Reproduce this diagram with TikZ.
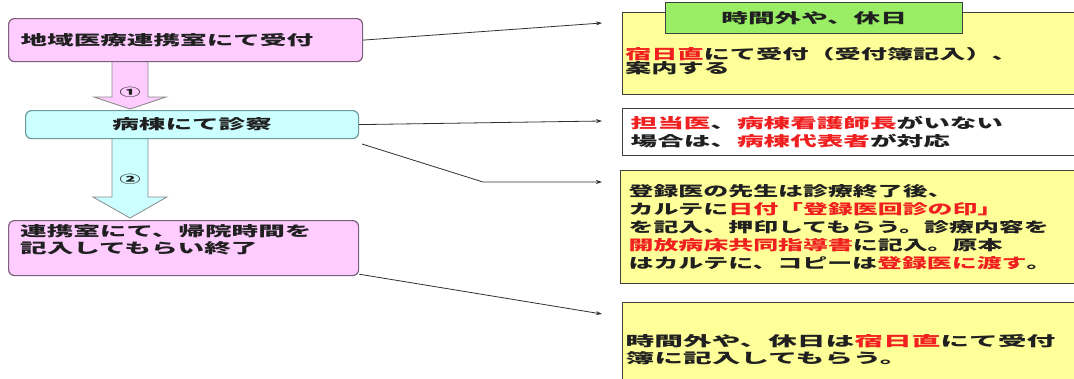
\documentclass[tikz,border=0pt]{standalone}
\usepackage{fontspec}
\newfontfamily\jp[FakeStretch=1.9]{Noto Sans CJK JP}
\newfontfamily\jpa[FakeStretch=1.87]{Noto Sans CJK JP}
\newfontfamily\jpc[FakeStretch=1.78]{Noto Sans CJK JP}
\newfontfamily\jpd[FakeStretch=2.05]{Noto Sans CJK JP}
\usetikzlibrary{arrows.meta}
\definecolor{pinkfill}{HTML}{FFCCFF}
\definecolor{pinkline}{HTML}{7A607A}
\definecolor{cyanfill}{HTML}{CCFFFF}
\definecolor{cyanline}{HTML}{6A9A9A}
\definecolor{yellowfill}{HTML}{FFFF99}
\definecolor{greenfill}{HTML}{99EE66}
\definecolor{boxline}{HTML}{404040}
\definecolor{connline}{HTML}{303030}
\definecolor{arrline}{HTML}{8A8A8A}
\definecolor{redtext}{HTML}{F02020}
\definecolor{blacktext}{HTML}{202020}
\newcommand{\rd}[1]{\textcolor{redtext}{#1}}
\begin{document}
\begin{tikzpicture}[x=1pt,y=-1pt,
  jpf/.style={font=\jp\bfseries\fontsize{14}{18}\selectfont, text=blacktext},
  lbox/.style={draw=pinkline, line width=1.2pt, rounded corners=6pt, anchor=north west, inner sep=0pt, jpf},
  rbox/.style={draw=boxline, line width=1.3pt, anchor=north west, inner ysep=0pt, inner xsep=8pt, align=left, jpf},
  txt/.style={align=left, anchor=west, inner sep=0pt, jpf},
  conn/.style={draw=connline, line width=0.8pt, -{Stealth[length=6pt,width=4pt]}},
  blockarrow/.style={draw=arrline, line width=0.8pt},
  numlab/.style={font=\jp\bfseries\fontsize{11}{11}\selectfont, inner sep=0pt, text=blacktext}
  ]
\useasboundingbox (0,0) rectangle (1074,378);

% block arrows
\draw[blockarrow, fill=pinkfill] (112,61) -- (148,61) -- (148,97) -- (166,97) -- (130,109) -- (94,97) -- (112,97) -- cycle;
\draw[blockarrow, fill=cyanfill] (112,138) -- (148,138) -- (148,197) -- (167,197) -- (130,218) -- (93,197) -- (112,197) -- cycle;
\node[numlab] (n1) at (130,92) {①};
\node[numlab] (n2) at (130,179) {②};

% left boxes
\node[lbox, fill=pinkfill, minimum width=354pt, minimum height=43pt, text width=330pt, inner xsep=12pt, align=left] (b1) at (8,18) {地域医療連携室にて受付};
\node[lbox, draw=cyanline, fill=cyanfill, minimum width=333pt, minimum height=28pt, align=center] (b2) at (25,110) {病棟にて診察};
\node[lbox, fill=pinkfill, minimum width=350pt, minimum height=55pt] (b3) at (8,220) {};
\node[txt, font=\jp\bfseries\fontsize{14}{17}\selectfont] (t3) at (20,240) {連携室にて、帰院時間を\\記入してもらい終了};

% right boxes
\node[rbox, fill=yellowfill, minimum width=452pt, minimum height=82pt] (bA) at (622,12) {};
\node[draw=boxline, line width=1.3pt, fill=greenfill, minimum width=297pt, minimum height=31pt, anchor=north west, inner sep=0pt, jpf] (gA) at (665,2) {時間外や、休日};
\node[txt, font=\jpa\bfseries\fontsize{14}{14}\selectfont] (tA) at (625,61) {\rd{宿日直}にて受付（受付簿記入）、\\案内する};

\node[rbox, fill=white, minimum width=452pt, minimum height=47pt, text width=436pt] (bB) at (622,108) {\rd{担当医}、\rd{病棟看護師長}がいない\\場合は、\rd{病棟代表者}が対応};

\node[rbox, fill=yellowfill, minimum width=454pt, minimum height=113pt, text width=438pt, font=\jpc\bfseries\fontsize{14}{18}\selectfont] (bC) at (620,170) {登録医の先生は診療終了後、\\カルテに\rd{日付「登録医回診の印」}\\を記入、押印してもらう。診療内容を\\\rd{開放病床共同指導書}に記入。原本\\はカルテに、コピーは\rd{登録医に渡す}。};

\node[rbox, fill=yellowfill, minimum width=452pt, minimum height=93pt, text width=446pt, inner xsep=3pt, font=\jpd\bfseries\fontsize{14}{17}\selectfont] (bD) at (622,302) {時間外や、休日は\rd{宿日直}にて受付\\簿に記入してもらう。};

% connectors
\coordinate (e1) at (602,23);
\coordinate (e2) at (602,121);
\coordinate (s3) at (362,144);
\coordinate (k3) at (483,182);
\coordinate (e3) at (602,182);
\coordinate (e4) at (602,314);
\draw[conn] (b1.east) -- (e1);
\draw[conn] (b2.east) -- (e2);
\draw[conn] (s3) -- (k3) -- (e3);
\draw[conn] ([yshift=2pt]b3.south east) -- (e4);
\end{tikzpicture}
\end{document}
